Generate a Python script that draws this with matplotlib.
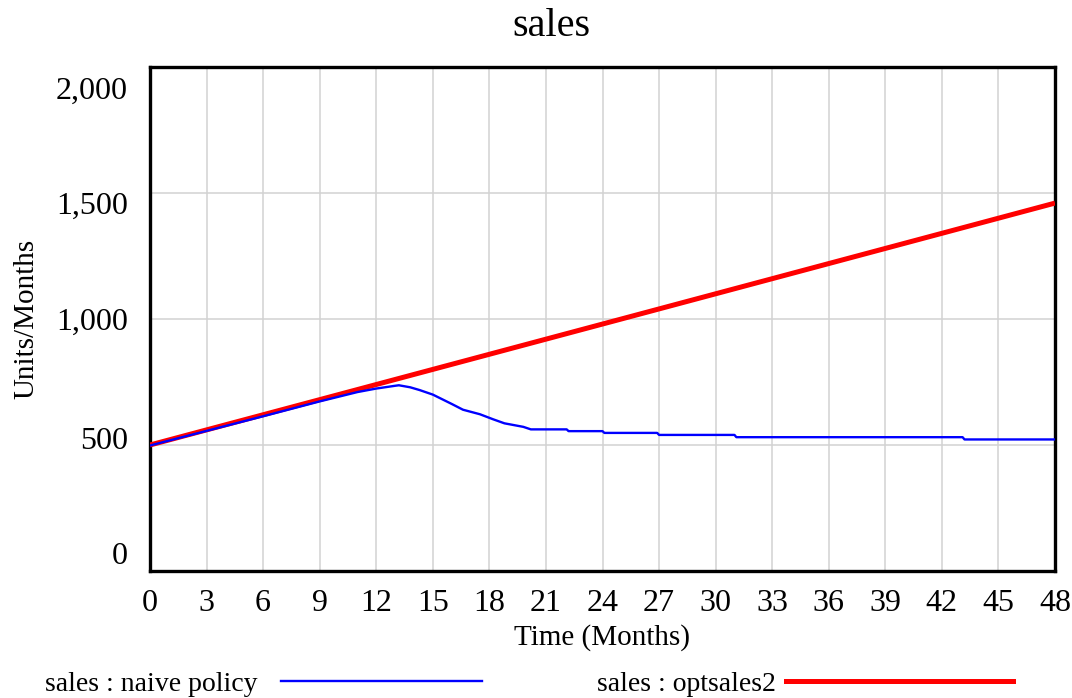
import matplotlib
matplotlib.use("Agg")
import matplotlib.pyplot as plt
import matplotlib.transforms as mtransforms
from matplotlib.lines import Line2D

# Simulated sales under the two policies (Units/Months)
time_opt = [0, 3, 6, 9, 12, 15, 18, 21, 24, 27, 30, 33, 36, 39, 42, 45, 48]
sales_opt = [500, 560, 620, 680, 740, 800, 860, 920, 980, 1040, 1100,
             1160, 1220, 1280, 1340, 1400, 1460]

time_naive = [0, 3, 6, 9, 11, 12, 13, 13.2, 13.8, 14.3, 15, 16, 16.6, 17.5,
              18.2, 18.8, 19.8, 20.2, 22.1, 22.2, 24.0, 24.1, 26.9, 27.0,
              31.0, 31.1, 43.1, 43.2, 48]
sales_naive = [498, 556, 614, 673, 710, 724, 735, 737, 729, 718, 700, 663,
               640, 622, 602, 586, 572, 562, 562, 555, 555, 548, 548, 540,
               540, 531, 531, 522, 522]

x_ticks = list(range(0, 49, 3))
y_ticks = [0, 500, 1000, 1500, 2000]
y_tick_labels = ["0", "500", "1,000", "1,500", "2,000"]
# vertical nudge of each y tick label, in pixels (positive = down)
y_label_shift_px = [-18, -7, 0, 10, 21]

plt.rcParams["font.family"] = ["Liberation Serif", "DejaVu Serif"]

W, H = 1072, 698
fig = plt.figure(figsize=(W / 100, H / 100), dpi=100)
ax = fig.add_axes([150 / W, 1 - 571 / H, (1055 - 150) / W, (571 - 67) / H])

ax.plot(time_opt, sales_opt, color="#ff0000", lw=3.6, solid_capstyle="butt",
        zorder=3)
ax.plot(time_naive, sales_naive, color="#0000ff", lw=1.7, zorder=4)

ax.set_xlim(0, 48)
ax.set_ylim(0, 2000)
ax.set_xticks(x_ticks)
ax.set_yticks(y_ticks)
ax.set_yticklabels(y_tick_labels)
ax.grid(True, color="#d2d2d2", lw=1.1)
ax.set_axisbelow(True)
ax.tick_params(axis="both", length=0, labelsize=23)
ax.tick_params(axis="x", pad=13)
ax.tick_params(axis="y", pad=16)

for lab, shift in zip(ax.get_yticklabels(), y_label_shift_px):
    off = mtransforms.ScaledTranslation(0, -shift / 100, fig.dpi_scale_trans)
    lab.set_transform(lab.get_transform() + off)

for sp in ax.spines.values():
    sp.set_linewidth(2.4)
    sp.set_color("black")

ax.set_xlabel("Time (Months)", fontsize=21, labelpad=4)
ax.set_ylabel("Units/Months", fontsize=21, labelpad=12)
fig.text(551 / W, 1 - 27 / H, "sales", fontsize=29, ha="center",
         va="center")

h_naive = Line2D([], [], color="#0000ff", lw=1.7)
h_opt = Line2D([], [], color="#ff0000", lw=3.6)
leg_kw = dict(loc="center left", markerfirst=False, frameon=False,
              fontsize=20, borderpad=0, borderaxespad=0)
fig.legend(handles=[h_naive], labels=["sales : naive policy"],
           bbox_to_anchor=(45 / W, 1 - 684 / H),
           handlelength=7.23, handletextpad=0.86, **leg_kw)
fig.legend(handles=[h_opt], labels=["sales : optsales2"],
           bbox_to_anchor=(597 / W, 1 - 684 / H),
           handlelength=8.17, handletextpad=0.36, **leg_kw)

fig.savefig("out.png", dpi=100)
